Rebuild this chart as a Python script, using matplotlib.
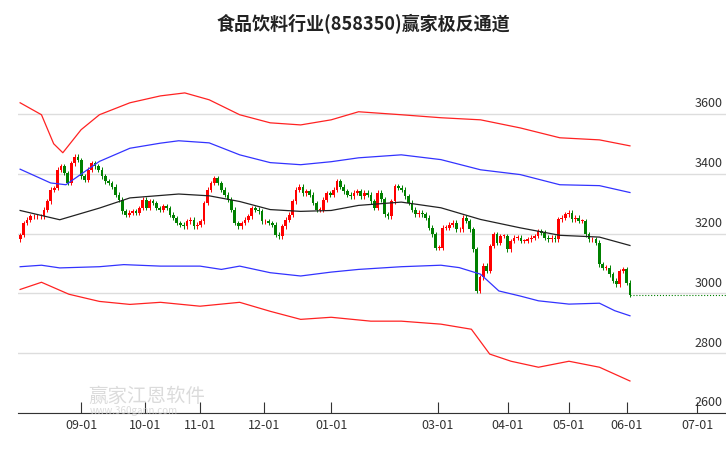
import matplotlib
matplotlib.use('Agg')
import matplotlib.pyplot as plt
import numpy as np

plt.rcParams['font.family'] = ['Noto Sans CJK SC', 'DejaVu Sans']

# daily closes (approx.)
closes = [
    3195, 3235, 3246, 3257, 3257, 3257, 3257, 3280, 3308, 3347, 3352, 3413, 3424, 3402,
    3369, 3435, 3457, 3446, 3391, 3380, 3413, 3435, 3424, 3413, 3391, 3374, 3369, 3357,
    3330, 3313, 3274, 3263, 3269, 3274, 3269, 3285, 3313, 3285, 3308, 3302, 3285, 3280,
    3291, 3285, 3263, 3252, 3235, 3230, 3224, 3241, 3246, 3224, 3230, 3241, 3302, 3347,
    3369, 3385, 3369, 3347, 3330, 3313, 3280, 3235, 3224, 3235, 3246, 3257, 3285, 3280,
    3274, 3241, 3241, 3235, 3230, 3196, 3191, 3224, 3246, 3263, 3308, 3347, 3357, 3335,
    3341, 3330, 3302, 3280, 3280, 3313, 3335, 3330, 3347, 3374, 3357, 3341, 3330, 3324,
    3336, 3341, 3325, 3336, 3330, 3308, 3286, 3336, 3314, 3264, 3258, 3308, 3358, 3353,
    3347, 3325, 3303, 3280, 3264, 3269, 3264, 3253, 3219, 3197, 3153, 3153, 3219, 3219,
    3230, 3236, 3214, 3214, 3253, 3242, 3214, 3147, 3008, 3053, 3092, 3075, 3158, 3197,
    3169, 3192, 3192, 3147, 3175, 3186, 3186, 3175, 3175, 3180, 3186, 3192, 3208, 3203,
    3186, 3180, 3186, 3180, 3247, 3253, 3264, 3269, 3247, 3253, 3242, 3242, 3197, 3180,
    3180, 3169, 3097, 3086, 3086, 3064, 3042, 3030, 3075, 3080, 3036, 2995,
]
first_open = 3180

# channel lines: (day index, value) knots
mid_x = [0, 13, 26, 36, 52, 62, 72, 82, 92, 102, 111, 125, 138, 151, 164, 177, 190, 200]
mid_y = [3277, 3246, 3285, 3319, 3332, 3326, 3307, 3280, 3274, 3277, 3294, 3305, 3286,
         3247, 3219, 3194, 3188, 3160]
up_x = [0, 10, 15, 26, 36, 46, 52, 62, 72, 82, 92, 102, 111, 125, 138, 151, 164, 177, 190, 200]
up_y = [3415, 3369, 3363, 3441, 3485, 3502, 3510, 3503, 3463, 3437, 3430, 3440, 3453,
        3463, 3447, 3413, 3397, 3363, 3360, 3337]
lo_x = [0, 7, 13, 26, 34, 46, 59, 66, 72, 82, 92, 102, 111, 125, 138, 144, 151, 157,
        164, 170, 180, 190, 195, 200]
lo_y = [3089, 3094, 3085, 3089, 3096, 3091, 3091, 3080, 3091, 3069, 3058, 3071, 3080,
        3089, 3094, 3086, 3064, 3008, 2991, 2975, 2964, 2967, 2942, 2925]
rup_x = [0, 7, 11, 14, 20, 26, 36, 46, 54, 62, 72, 82, 92, 102, 111, 125, 138, 151, 164, 177, 190, 200]
rup_y = [3637, 3597, 3500, 3470, 3547, 3597, 3637, 3660, 3670, 3647, 3597, 3570, 3563, 3580,
         3607, 3597, 3587, 3580, 3553, 3520, 3513, 3493]
rlo_x = [0, 7, 16, 26, 36, 46, 59, 72, 82, 92, 102, 115, 125, 138, 148, 154, 161, 170,
         180, 190, 200]
rlo_y = [3013, 3037, 2997, 2973, 2963, 2970, 2957, 2970, 2940, 2913, 2920, 2907, 2907,
         2897, 2880, 2797, 2773, 2753, 2773, 2753, 2707]

tick_pos = [20, 41, 59, 80, 102, 137, 160, 180, 199, 222]
tick_labels = ['09-01', '10-01', '11-01', '12-01', '01-01', '03-01', '04-01',
               '05-01', '06-01', '07-01']
y_ticks = [2600, 2800, 3000, 3200, 3400, 3600]

fig = plt.figure(figsize=(7.26, 4.5), dpi=100)
ax = fig.add_axes([18 / 726, 1 - 413 / 450, 1 - 18 / 726, (413 - 60) / 450])

n = len(closes)
xs = np.linspace(0, 200, n)
opens = [first_open] + closes[:-1]
for x, o, c in zip(xs, opens, closes):
    col = '#ff0000' if c >= o else '#008000'
    lo, hi = min(o, c), max(o, c)
    ax.vlines(x, lo - 8, hi + 8, color=col, linewidth=0.7)
    ax.bar(x, max(hi - lo, 2), bottom=lo, width=0.9, color=col, linewidth=0)

ax.plot(mid_x, mid_y, color='#222222', lw=0.9)
ax.plot(up_x, up_y, color='#3333ff', lw=0.9)
ax.plot(lo_x, lo_y, color='#3333ff', lw=0.9)
ax.plot(rup_x, rup_y, color='#ff2222', lw=0.9)
ax.plot(rlo_x, rlo_y, color='#ff2222', lw=0.9)
ax.plot([200, 232], [closes[-1], closes[-1]], color='#008000', lw=0.8, ls=':')

ax.set_xlim(-0.7, 231.5)
ax.set_ylim(2600, 3780)
for v in y_ticks:
    ax.axhline(v, color='#dddddd', lw=1, zorder=0)
    ax.text(230.5, v + 12, str(v), ha='right', va='bottom', fontsize=9, color='#333333')
ax.set_yticks([])
for s in ['top', 'right', 'left']:
    ax.spines[s].set_visible(False)
ax.spines['bottom'].set_color('#333333')
ax.set_xticks(tick_pos)
ax.set_xticklabels(tick_labels, fontsize=9, color='#333333')
ax.tick_params(axis='x', direction='in', length=8, pad=4, colors='#333333')

fig.text(0.5, 1 - 24 / 450, '食品饮料行业(858350)赢家极反通道', ha='center', va='center',
         fontsize=13, fontweight='bold', color='#222222')
fig.text(88 / 726, 1 - 396 / 450, '赢家江恩软件', fontsize=14, color='#cccccc', alpha=0.7,
         va='center')
fig.text(90 / 726, 1 - 411 / 450, 'www.360gann.com', fontsize=7, color='#cccccc', alpha=0.7,
         va='center')

fig.savefig('out.png', dpi=100)
